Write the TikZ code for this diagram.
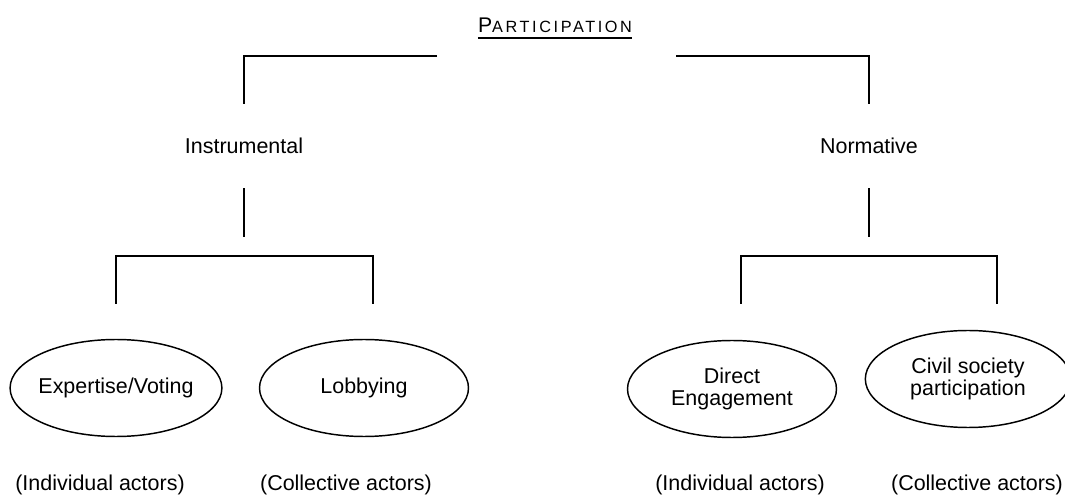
\documentclass[tikz,border=0pt]{standalone}
\usepackage{fontspec}
\setmainfont{Liberation Sans}
\usetikzlibrary{shapes.geometric}
\tikzset{
  rule/.style={black, line width=1.1pt},
  oval/.style={ellipse, draw, line width=1.1pt, inner sep=0pt, align=center,
    minimum width=156.75pt, minimum height=72.75pt},
  branch/.style={inner sep=0pt, minimum height=63pt},
  actors/.style={anchor=base, inner sep=0pt},
}
\begin{document}
\begin{tikzpicture}[x=0.75pt, y=-0.75pt]
	  \useasboundingbox (0,0) rectangle (1065,495);
	  \fontsize{16.1}{16.8}\selectfont
	  % title
	  \node[anchor=base, inner sep=0pt] (part) at (555,33) {{\fontsize{15.9}{18}\selectfont P}{\fontsize{12.2}{14}\selectfont\addfontfeature{LetterSpace=16}ARTICIPATION}};
	  \draw[rule] ([yshift=-3.75pt]part.base west) -- ([yshift=-3.75pt]part.base east);
	  % two branches
	  \node[branch] (instr) at (244,146) {Instrumental};
	  \node[branch] (norm) at (869,146) {Normative};
	  \coordinate (tl) at (437,56);
	  \coordinate (tr) at (676,56);
	  \draw[rule] (tl) -| (instr.north);
	  \draw[rule] (tr) -| (norm.north);
	  \draw[rule] (instr.south) -- ++(0,49);
	  \draw[rule] (norm.south) -- ++(0,49);
	  % lower brackets
	  \coordinate (il) at (116,304);
	  \coordinate (ir) at (373,304);
	  \coordinate (nl) at (741,304);
	  \coordinate (nr) at (997,304);
	  \draw[rule] (il) -- ++(0,-48) -| (ir);
	  \draw[rule] (nl) -- ++(0,-48) -| (nr);
	  % ovals
	  \node[oval, inner xsep=-2pt] (expert) at (116,388) {Expertise/Voting};
	  \node[oval] (lobby) at (364,388) {Lobbying};
	  \node[oval] (direct) at (732,389) {Direct\\Engagement};
	  \node[oval, minimum width=154pt] (civil) at (968,379) {Civil society\\participation};
	  % actors
	  \node[actors] (ind1) at (100,490) {(Individual actors)};
	  \node[actors] (col1) at (346,490) {(Collective actors)};
	  \node[actors] (ind2) at (740,490) {(Individual actors)};
	  \node[actors] (col2) at (977,490) {(Collective actors)};
	\end{tikzpicture}
\end{document}
